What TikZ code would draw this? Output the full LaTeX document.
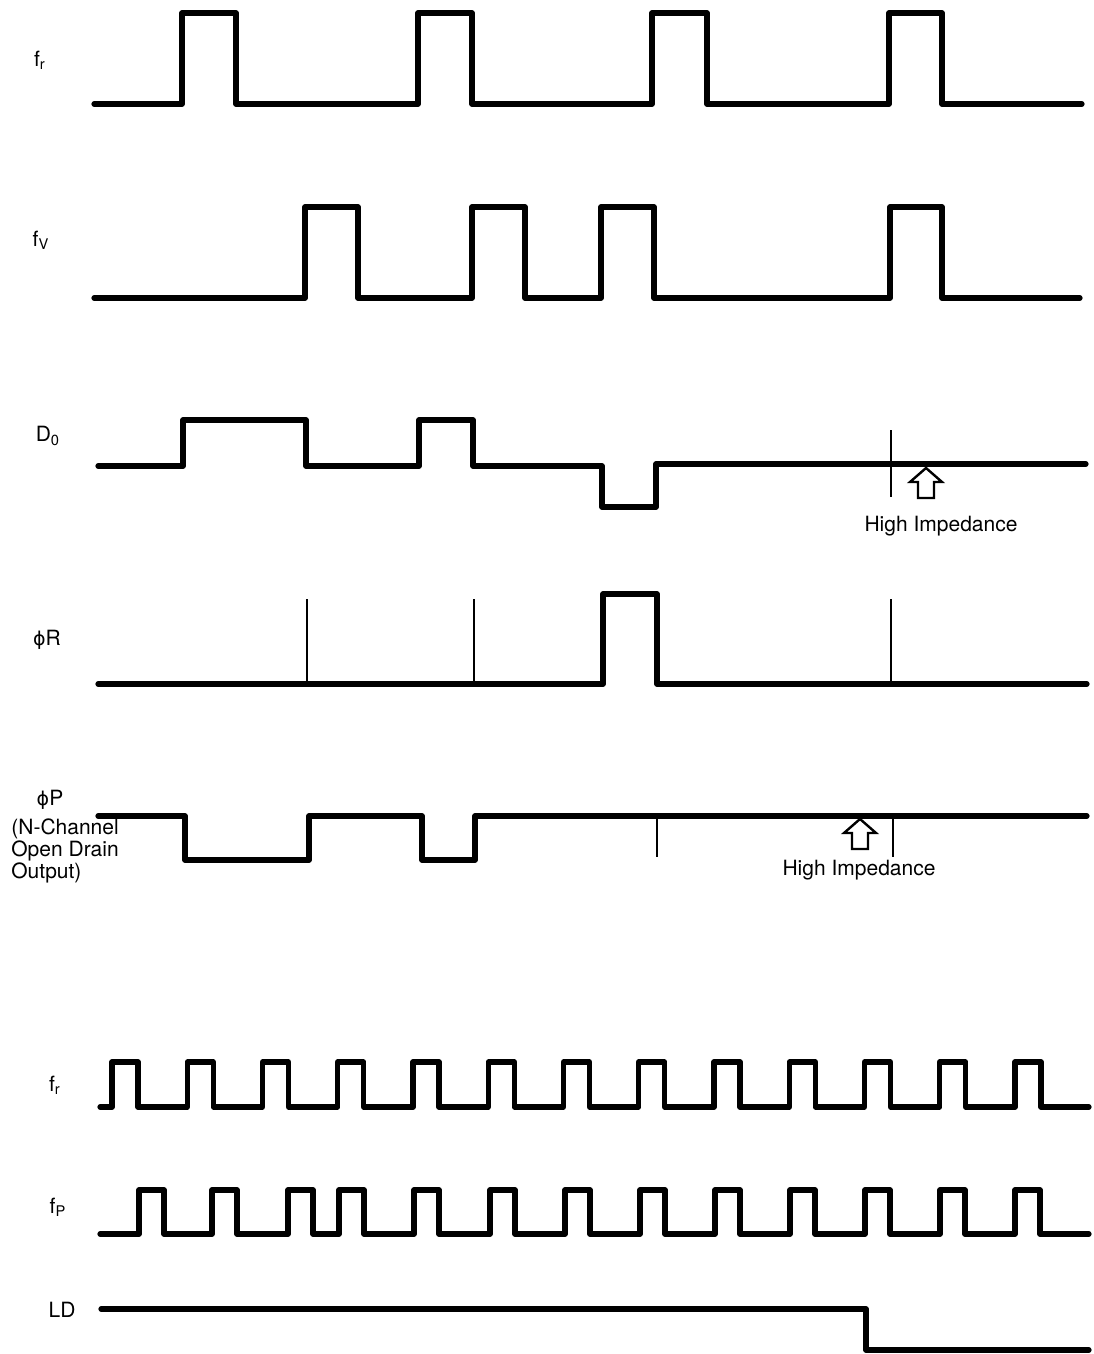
\documentclass[tikz,border=0pt]{standalone}
\usepackage{fontspec}
\setmainfont{TeX Gyre Heros}
\newfontfamily\phifont{DejaVu Sans}
\usetikzlibrary{positioning}
\tikzset{
  sig/.style={line width=2.6pt, line join=round, line cap=round},
  tick/.style={line width=1.3pt},
  lbl/.style={inner sep=0pt, font=\fontsize{10.5}{9.8}\selectfont},
  hiz/.pic={\draw[line width=1.2pt, fill=white] (0,0) -- (16,14) -- (8,14) -- (8,30) -- (-8,30) -- (-8,14) -- (-16,14) -- cycle;}
}
\newcommand\sigphi{{\phifont\fontsize{9.5}{9.8}\selectfont ϕ}}

\begin{document}
\begin{tikzpicture}[x=0.5pt, y=-0.5pt]
	\useasboundingbox (0,0) rectangle (1093,1354);
	% labels
	\node[lbl] (lfr) at (40,60) {f\textsubscript{r}};
	\node[lbl] (lfv) at (41,240) {f\textsubscript{V}};
	\node[lbl] (ldo) at (48,436) {D\textsubscript{0}};
	\node[lbl] (lphr) at (47,640) {\sigphi R};
	\node[lbl] (lphp) at (50,800) {\sigphi P};
	\node[lbl, anchor=north west, align=left] (lnch) at (11,818) {(N-Channel\\Open Drain\\Output)};
	\node[lbl] (lfr2) at (55,1085) {f\textsubscript{r}};
	\node[lbl] (lfp) at (58,1207) {f\textsubscript{P}};
	\node[lbl] (lld) at (62,1310) {LD};

	% fr
	\draw[sig] (94,104) -- (182,104) |- (236,13) |- (418,104) |- (472,13) |- (652,104) |- (707,13) |- (889,104) |- (942,13) |- (1082,104);
	% fV
	\draw[sig] (94,298) -- (305,298) |- (358,207) |- (472,298) |- (525,207) |- (601,298) |- (654,207) |- (890,298) |- (942,207) |- (1080,298);
	% D0
	\draw[sig] (98,466) -- (183,466) |- (306,420) |- (419,466) |- (473,420) |- (602,466) |- (656,507) |- (1086,464);
	\draw[tick] (891,430) -- (891,497);
	\pic at (926,468) {hiz};
	\node[lbl] (hz1) at (941,526) {High Impedance};
	% phiR
	\draw[sig] (98,684) -- (603,684) |- (657,594) |- (1087,684);
	\foreach \x in {307,474,891} {
		\draw[tick] (\x,599) -- (\x,684);
	}
	% phiP
	\draw[sig] (98,816) -- (185,816) |- (309,860) |- (422,816) |- (475,860) |- (1087,816);
	\foreach \x in {657,893} {
		\draw[tick] (\x,816) -- (\x,857);
	}
	\pic at (860,819) {hiz};
	\node[lbl] (hz2) at (859,870) {High Impedance};

	% fr (locked)
	\draw[sig] (100,1107) foreach \k in {0,...,12} { -- ({112+75.25*\k},1107) -- ++(0,-45) -- ++(26,0) -- ++(0,45) } -- (1089,1107);
	% fP
	\draw[sig] (100,1234) foreach \x in {139,212,288,339,414,490,565,640,715,790,865,940,1015} { -- (\x,1234) -- ++(0,-44) -- ++(25,0) -- ++(0,44) } -- (1089,1234);
	% LD
	\draw[sig] (101,1309) -- (866,1309) |- (1089,1350);
\end{tikzpicture}
\end{document}
